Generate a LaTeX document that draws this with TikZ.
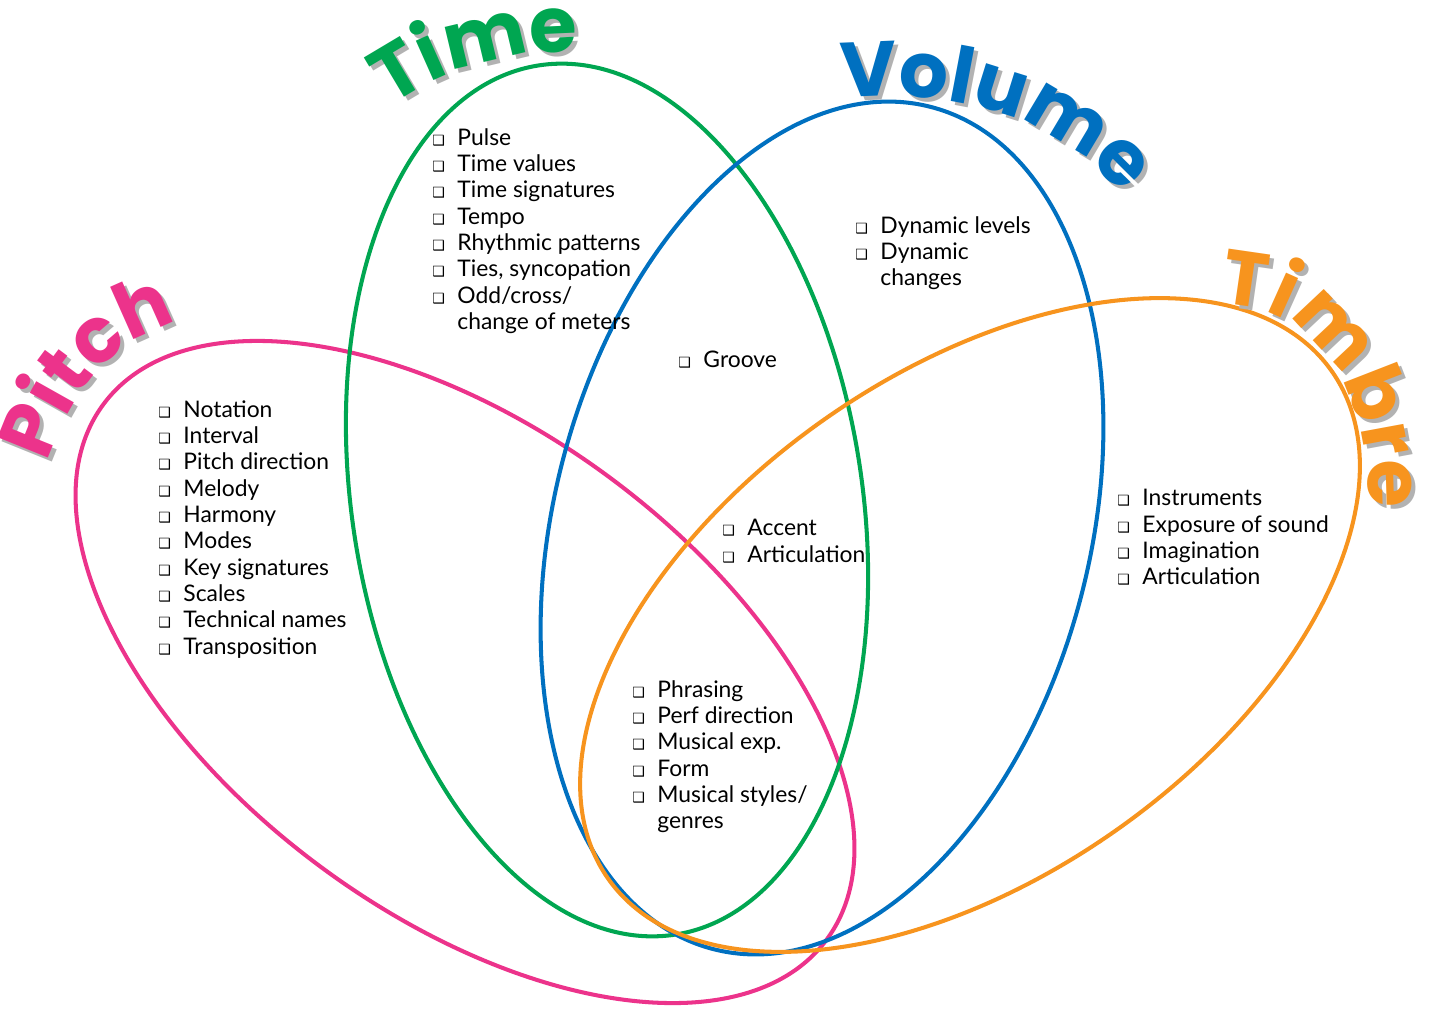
\documentclass[tikz,border=0pt]{standalone}
\usepackage{fontspec}
\setmainfont{Lato}
\newfontfamily\titlefont{Poppins}
\newfontfamily\boxfont{DejaVu Sans}
\usepackage{tikz}
\usetikzlibrary{decorations.text}
\definecolor{pitchc}{RGB}{236,51,139}
\definecolor{timec}{RGB}{0,166,81}
\definecolor{volc}{RGB}{0,112,192}
\definecolor{timbc}{RGB}{247,148,30}
\newcommand{\itm}[1]{\makebox[1.1em][l]{\boxfont\footnotesize ❑}#1}
\newcommand{\cnt}[1]{\hspace{1.1em}#1}
\tikzset{
x=0.02cm, y=-0.02cm,
ring/.style={line width=2.3pt},
lst/.style={anchor=north west, inner sep=0pt, align=left,
    font=\fontsize{13}{15}\selectfont},
title/.style 2 args={decorate, decoration={text along path, text align=center,
    text color=#1, text={|\titlefont\bfseries\fontsize{44}{44}\selectfont|#2}}},
}
\begin{document}
\begin{tikzpicture}
	\useasboundingbox (0,0) rectangle (1429,1010);
	% rings
	\draw[ring, pitchc] (465,672) ellipse [x radius=9cm, y radius=4.85cm, rotate=-36.5];
	\draw[ring, timec] (607,500) ellipse [x radius=5.1cm, y radius=8.8cm, rotate=9];
	\draw[ring, volc] (822,528) ellipse [x radius=5.36cm, y radius=8.7cm, rotate=-14.5];
	\draw[ring, timbc] (970,625) ellipse [x radius=8.84cm, y radius=5.04cm, rotate=35];
	% titles, shadow first
	\foreach \dx/\cp/\ct/\cv/\cb in {4/black!30/black!30/black!30/black!30, 0/pitchc/timec/volc/timbc}{
	  \begin{scope}[shift={(\dx,\dx)}]
	    \path[title={\cp}{Pitch}] (45,470) .. controls (70,390) and (110,340) .. (185,320);
	    \path[title={\ct}{Time}] (385,110) .. controls (440,70) and (500,50) .. (585,52);
	    \path[title={\cv}{Volume}] (830,100) .. controls (950,85) and (1060,115) .. (1130,205);
	    \path[title={\cb}{Timbre}] (1235,305) .. controls (1315,312) and (1368,392) .. (1368,492);
	  \end{scope}
	}
	% lists
	\node[lst] (timelist) at (432,128) {\itm{Pulse}\\ \itm{Time values}\\ \itm{Time signatures}\\
	  \itm{Tempo}\\ \itm{Rhythmic patterns}\\ \itm{Ties, syncopation}\\ \itm{Odd/cross/}\\
	  \cnt{change of meters}};
	\node[lst] (vollist) at (855,216) {\itm{Dynamic levels}\\ \itm{Dynamic}\\ \cnt{changes}};
	\node[lst] (groove) at (678,351) {\itm{Groove}};
	\node[lst] (pitchlist) at (158,400) {\itm{Notation}\\ \itm{Interval}\\ \itm{Pitch direction}\\
	  \itm{Melody}\\ \itm{Harmony}\\ \itm{Modes}\\ \itm{Key signatures}\\ \itm{Scales}\\
	  \itm{Technical names}\\ \itm{Transposition}};
	\node[lst] (accent) at (722,519) {\itm{Accent}\\ \itm{Articulation}};
	\node[lst] (timblist) at (1117,489) {\itm{Instruments}\\ \itm{Exposure of sound}\\
	  \itm{Imagination}\\ \itm{Articulation}};
	\node[lst] (alllist) at (632,680) {\itm{Phrasing}\\ \itm{Perf direction}\\ \itm{Musical exp.}\\
	  \itm{Form}\\ \itm{Musical styles/}\\ \cnt{genres}};
\end{tikzpicture}
\end{document}
